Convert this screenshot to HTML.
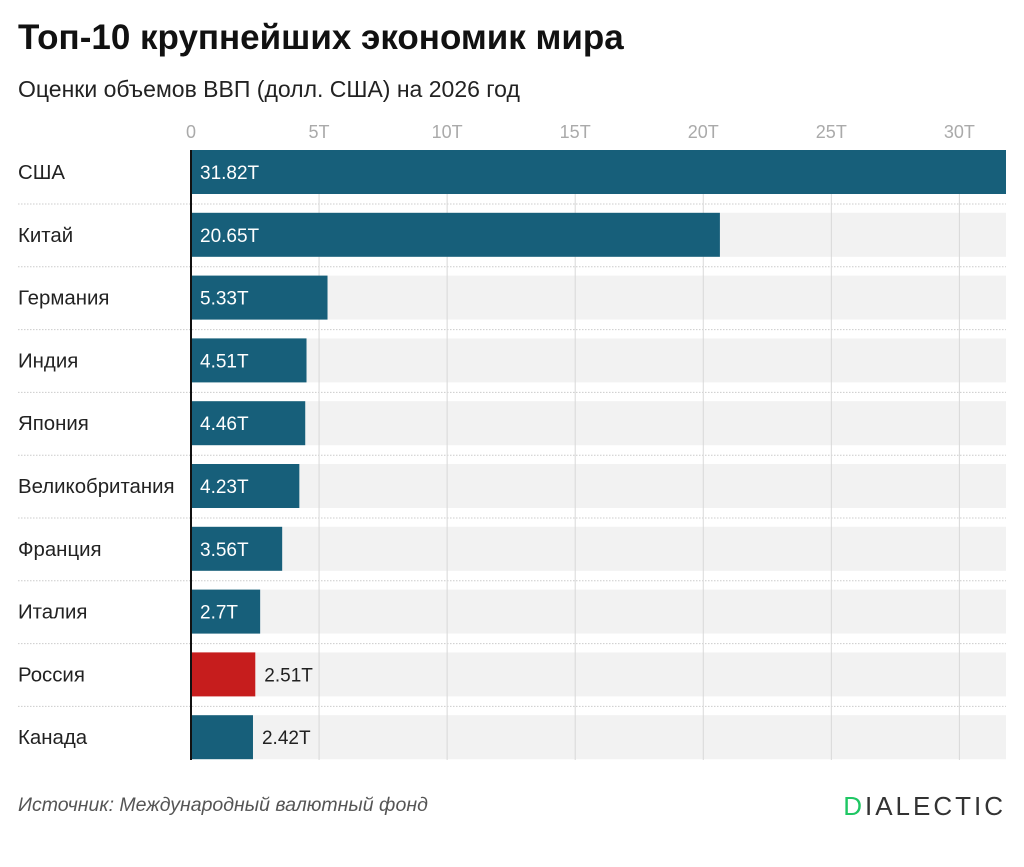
<!DOCTYPE html>
<html><head><meta charset="utf-8"><style>
body{margin:0;background:#fff;width:1024px;height:862px;overflow:hidden;font-family:"Liberation Sans",sans-serif}
</style></head><body>
<svg width="1024" height="862" font-family="Liberation Sans, sans-serif">
<text x="18" y="49" font-size="35" font-weight="bold" fill="#111">Топ-10 крупнейших экономик мира</text>
<text x="18" y="97" font-size="23" fill="#222">Оценки объемов ВВП (долл. США) на 2026 год</text>
<g id="plot"></g>
<text x="18" y="811" font-size="19.5" font-style="italic" fill="#555">Источник: Международный валютный фонд</text>
<text x="1006" y="815" font-size="26" text-anchor="end" letter-spacing="3" fill="#333"><tspan fill="#1fc764">D</tspan>IALECTIC</text>
</svg>
<script>
const categories=["США","Китай","Германия","Индия","Япония","Великобритания","Франция","Италия","Россия","Канада"];
const values=[31.82,20.65,5.33,4.51,4.46,4.23,3.56,2.7,2.51,2.42];
const valueLabels=["31.82T","20.65T","5.33T","4.51T","4.46T","4.23T","3.56T","2.7T","2.51T","2.42T"];
const ticks=[0,5,10,15,20,25,30];
const tickLabels=["0","5T","10T","15T","20T","25T","30T"];
const highlight="Россия";
const NS="http://www.w3.org/2000/svg";
const g=document.getElementById('plot');
const x0=191,x1=1006,dmax=31.82;
const xs=v=>x0+v/dmax*(x1-x0);
const plotTop=150,pitch=62.8,bh=44;
const ys=i=>plotTop+i*pitch;
function mk(t,a){const e=document.createElementNS(NS,t);for(const k in a)e.setAttribute(k,a[k]);g.appendChild(e);return e;}
categories.forEach((c,i)=>{
 const r=mk('rect',{x:x0,y:ys(i),width:x1-x0,height:bh,fill:'#f2f2f2'});
 
 
 if(i<categories.length-1){const l=mk('line',{x1:18,x2:x1,y1:ys(i)+bh+10,y2:ys(i)+bh+10,stroke:'#ccc','stroke-dasharray':'1.5 1.5'});
 
 }
});
ticks.forEach((t,i)=>{
 if(t>0){const l=mk('line',{x1:xs(t),x2:xs(t),y1:150,y2:760,stroke:'#d8d8d8'});
 
 }
 const tx=mk('text',{x:xs(t),y:138,'font-size':18,fill:'#aaa','text-anchor':'middle'});tx.textContent=tickLabels[i];
 
 
});
categories.forEach((c,i)=>{
 const y=ys(i);
 const lb=mk('text',{x:18,y:y+bh/2+7,'font-size':20.4,fill:'#222'});lb.textContent=c;
 
 
 const w=xs(values[i])-x0;
 const b=mk('rect',{x:x0,y:y,width:w,height:bh,fill:c===highlight?'#c61d1d':'#175f7a'});
 
 
 const inside=w>67;
 const vt=mk('text',{x:inside?x0+9:x0+w+9,y:y+bh/2+7,'font-size':19,fill:inside?'#fff':'#222'});vt.textContent=valueLabels[i];
 
 
});
const ax=mk('line',{x1:x0,x2:x0,y1:150,y2:760,stroke:'#111','stroke-width':2});


</script>
</body></html>
